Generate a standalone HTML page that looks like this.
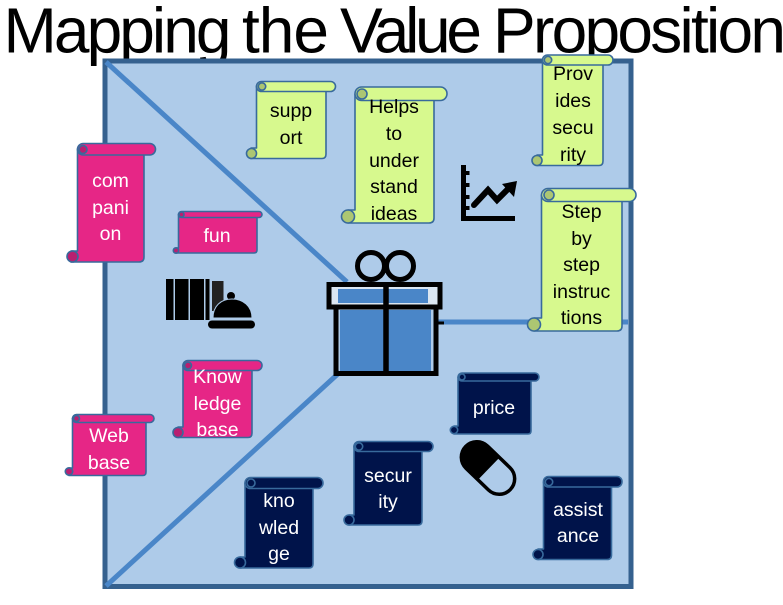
<!DOCTYPE html>
<html><head><meta charset="utf-8"><style>
html,body{margin:0;padding:0;background:#fff}
svg{display:block}
.t{font:19.5px "Liberation Sans",sans-serif;text-anchor:middle}
.w{fill:#fff}.k{fill:#000}
.s{stroke:#386a9c;stroke-width:1.6;stroke-linejoin:round}
.p{fill:#e62686}.g{fill:#d7f98e}.n{fill:#00134a}
.pc{fill:#b81f70}.gc{fill:#acc672}.nc{fill:#00134a}
.h{font:64px "Liberation Sans",sans-serif;fill:#000}
</style></head><body>
<svg width="783" height="605" viewBox="0 0 783 605" xmlns="http://www.w3.org/2000/svg">
<rect width="783" height="605" fill="#fff"/>
<text class="h" x="3.500" y="52.500" textLength="228" lengthAdjust="spacing">Mapping</text>
<text class="h" x="242" y="52.500" textLength="87" lengthAdjust="spacing">the</text>
<text class="h" x="340" y="52.500" textLength="142" lengthAdjust="spacing">Value</text>
<text class="h" x="493" y="52.500" textLength="293" lengthAdjust="spacing">Proposition</text>
<rect x="105" y="61" width="526" height="525.500" fill="#aecbe9" stroke="#35618f" stroke-width="5"/>
<g stroke="#4a86c8" stroke-width="5" fill="none">
<path d="M106 62L347 282"/><path d="M106 586L340 372"/><path d="M438 322H628"/>
</g>

<!-- gift -->
<g>
<path d="M330 286H439V305H330Z" fill="#dbe6f1"/>
<path d="M338 289H428V303H338ZM340 310H431V372H340Z" fill="#4a86c8"/>
<g fill="none" stroke="#000" stroke-width="5">
<rect x="329" y="284.500" width="111" height="22.500"/>
<path d="M336 307V373.500H436V307"/>
<path d="M386 282V373.500" stroke-width="5.500"/>
<ellipse cx="371" cy="266" rx="13.500" ry="13.500"/>
<ellipse cx="400" cy="266" rx="13.500" ry="13.500"/>
<path d="M437 323H444" stroke-width="3"/>
</g>
</g>

<!-- chart -->
<g fill="#000">
<path d="M461 165H466V216H515V221H461Z"/>
<path d="M465 171h4.500v4h-4.500zM465 183h4.500v4h-4.500zM465 195h4.500v4h-4.500zM465 206h4.500v4h-4.500z"/>
<path d="M474 205L488 190L497 200L510 187" fill="none" stroke="#000" stroke-width="6" stroke-linecap="round"/>
<path d="M502 184L517 181L514 197Z"/>
</g>

<!-- pill -->
<g transform="translate(488 468) rotate(44)">
<rect x="-31" y="-15.500" width="62" height="31" rx="15.500" fill="#aecbe9" stroke="#000" stroke-width="3.500"/>
<path d="M1 -17H-15.500A17 17 0 0 0 -15.500 17H1Z" fill="#000"/>
</g>

<!-- bars and bell -->
<g fill="#000">
<rect x="166" y="279" width="7.500" height="41"/>
<rect x="175" y="279" width="13.500" height="41"/>
<rect x="190" y="279" width="14" height="41"/>
<rect x="205.500" y="279" width="4" height="41"/>
<rect x="212" y="281" width="11.500" height="30" fill="#222"/>
<circle cx="231" cy="296" r="4"/>
<path d="M213 318C213 306 221 299 232 299C243 299 252 306 252 318Z" stroke="#aecbe9" stroke-width="1"/>
<rect x="208" y="320.500" width="47" height="8" rx="4"/>
</g>

<!-- pink scrolls -->
<g class="s">
<path class="p" d="M77.500 149V251H71V262H139Q144 262 144 257V149Z"/>
<rect class="p" x="77.500" y="143.500" width="78" height="11.500" rx="5.700"/>
<circle class="pc" cx="83" cy="149.500" r="4"/>
<circle class="pc" cx="72.500" cy="256.500" r="5.500"/>

<path class="p" d="M178.500 214V248H176V253H254Q257 253 257 250V214Z"/>
<rect class="p" x="178.500" y="211.500" width="83.500" height="6" rx="3"/>
<circle class="pc" cx="181.500" cy="214.500" r="2.500"/>
<circle class="pc" cx="176" cy="250.500" r="2.700"/>

<path class="p" d="M183 365V427H178V437.500H248Q252 437.500 252 433V365Z"/>
<rect class="p" x="183" y="360.500" width="79" height="10" rx="5"/>
<circle class="pc" cx="188" cy="365.500" r="3.500"/>
<circle class="pc" cx="178" cy="432.500" r="5"/>

<path class="p" d="M72.500 418V468H69V475.500H143Q146 475.500 146 472V418Z"/>
<rect class="p" x="72.500" y="414.500" width="81.500" height="8" rx="4"/>
<circle class="pc" cx="76.500" cy="418.500" r="3"/>
<circle class="pc" cx="69" cy="471.500" r="3.700"/>
</g>

<!-- green scrolls -->
<g class="s">
<path class="g" d="M256.500 86V148H251V158.500H322Q326 158.500 326 154V86Z"/>
<rect class="g" x="256.500" y="81.500" width="79" height="10" rx="5"/>
<circle class="gc" cx="262" cy="86.500" r="3.700"/>
<circle class="gc" cx="251.500" cy="153.500" r="5"/>

<path class="g" d="M355 94V210H348V223H429Q434 223 434 218V94Z"/>
<rect class="g" x="355" y="87" width="92" height="13.500" rx="6.700"/>
<circle class="gc" cx="362" cy="94" r="5"/>
<circle class="gc" cx="348" cy="216.500" r="6.500"/>

<path class="g" d="M542.500 60V155H537V165.500H599Q603 165.500 603 161V60Z"/>
<rect class="g" x="542.500" y="55" width="70.500" height="10" rx="5"/>
<circle class="gc" cx="548" cy="60" r="3.700"/>
<circle class="gc" cx="537" cy="160.500" r="5"/>

<path class="g" d="M541.500 195V318H534V331H617Q622 331 622 326V195Z"/>
<rect class="g" x="541.500" y="188.500" width="94.500" height="13" rx="6.500"/>
<circle class="gc" cx="549" cy="195" r="5"/>
<circle class="gc" cx="534" cy="324.500" r="6.500"/>
</g>

<!-- navy scrolls -->
<g class="s">
<path class="n" d="M543.500 482V549H538V559.500H607Q611.500 559.500 611.500 555V482Z"/>
<rect class="n" x="543.500" y="476.500" width="78.500" height="10.500" rx="5"/>
<circle class="nc" cx="549" cy="482" r="3.700"/>
<circle class="nc" cx="538" cy="554.500" r="5"/>

<path class="n" d="M458 377V426H454V434H528Q531 434 531 431V377Z"/>
<rect class="n" x="458" y="373" width="81" height="8" rx="4"/>
<circle class="nc" cx="462" cy="377" r="3"/>
<circle class="nc" cx="454" cy="430" r="3.700"/>

<path class="n" d="M354 446V515H349V525H418Q422 525 422 521V446Z"/>
<rect class="n" x="354" y="441.500" width="79" height="10" rx="5"/>
<circle class="nc" cx="359" cy="446.500" r="3.700"/>
<circle class="nc" cx="349" cy="520" r="5"/>

<path class="n" d="M245 483V557H240V568H309Q313 568 313 564V483Z"/>
<rect class="n" x="245" y="477.500" width="78" height="11" rx="5.500"/>
<circle class="nc" cx="251" cy="483" r="4"/>
<circle class="nc" cx="240" cy="562.500" r="5.500"/>
</g>

<!-- labels -->
<g class="t w">
<text x="110.500" y="187">com</text><text x="110.500" y="214">pani</text><text x="110.500" y="240">on</text>
<text x="217" y="242">fun</text>
<text x="217.500" y="383">Know</text><text x="217.500" y="410">ledge</text><text x="217.500" y="436">base</text>
<text x="109" y="442">Web</text><text x="109" y="469">base</text>
<text x="578" y="516">assist</text><text x="578" y="542">ance</text>
<text x="494" y="414">price</text>
<text x="388" y="482">secur</text><text x="388" y="508">ity</text>
<text x="279" y="507">kno</text><text x="279" y="534">wled</text><text x="279" y="560">ge</text>
</g>
<g class="t k">
<text x="291" y="117">supp</text><text x="291" y="144">ort</text>
<text x="394" y="113">Helps</text><text x="394" y="140">to</text><text x="394" y="167">under</text><text x="394" y="193">stand</text><text x="394" y="220">ideas</text>
<text x="573" y="80">Prov</text><text x="573" y="107">ides</text><text x="573" y="134">secu</text><text x="573" y="161">rity</text>
<text x="581.500" y="218">Step</text><text x="581.500" y="245">by</text><text x="581.500" y="271">step</text><text x="581.500" y="298">instruc</text><text x="581.500" y="324">tions</text>
</g>
</svg>
</body></html>
